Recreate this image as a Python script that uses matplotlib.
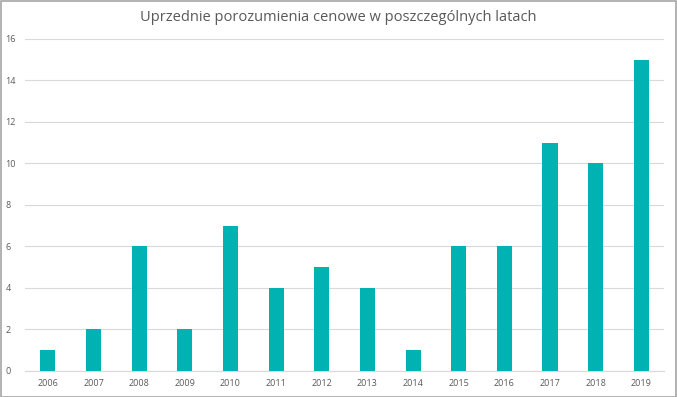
import matplotlib
matplotlib.use("Agg")
import matplotlib.pyplot as plt
from matplotlib.patches import Rectangle

years = ["2006", "2007", "2008", "2009", "2010", "2011", "2012", "2013",
         "2014", "2015", "2016", "2017", "2018", "2019"]
values = [1, 2, 6, 2, 7, 4, 5, 4, 1, 6, 6, 11, 10, 15]
yticks = [0, 2, 4, 6, 8, 10, 12, 14, 16]

plt.rcParams['font.family'] = ['Open Sans', 'DejaVu Sans']
fig = plt.figure(figsize=(6.77, 3.97), dpi=100)
ax = fig.add_axes([0.037, 0.0655, 0.944, 0.8365])

x = list(range(len(years)))
ax.bar(x, values, width=0.33, color="#00B2B2", zorder=3)
ax.set_xlim(-0.5, len(years) - 0.5)
ax.set_ylim(0, 16)
ax.set_yticks(yticks)
ax.set_xticks(x)
ax.set_xticklabels(years)
ax.yaxis.grid(True, color="#D9D9D9", linewidth=0.8, zorder=0)
for s in ["top", "right", "left"]:
    ax.spines[s].set_visible(False)
ax.spines["bottom"].set_color("#D9D9D9")
ax.tick_params(axis="both", length=0, labelsize=6.5, colors="#595959", pad=6)
ax.tick_params(axis="y", pad=14)
for lab in ax.get_yticklabels():
    lab.set_horizontalalignment("left")

fig.text(0.5, 0.955, "Uprzednie porozumienia cenowe w poszczególnych latach",
         ha="center", va="center", fontsize=10.5, color="#595959")

fig.patches.append(Rectangle((0.001, 0.001), 0.997, 0.997, transform=fig.transFigure,
                             fill=False, edgecolor="#A6A6A6", linewidth=1.2))
fig.savefig("out.png", dpi=100)
